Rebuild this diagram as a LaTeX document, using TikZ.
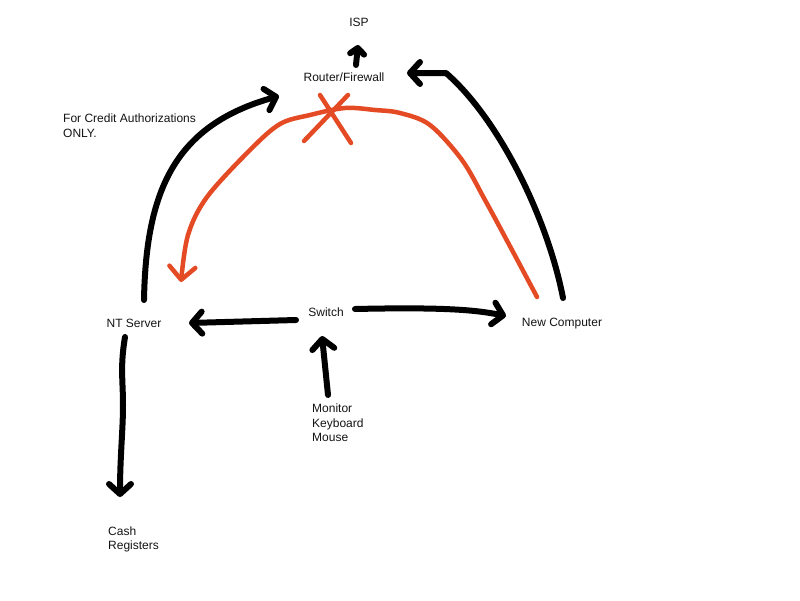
\documentclass[tikz,border=0pt]{standalone}
\usepackage{fontspec}
\setmainfont{Liberation Sans}
\usetikzlibrary{arrows.meta,calc}
\definecolor{redpen}{RGB}{228,74,36}

\begin{document}
\begin{tikzpicture}[x=1pt,y=-1pt,
        every node/.style={font=\fontsize{12}{14.5}\selectfont,text=black!92,inner sep=0pt},
        link/.style={line width=6pt,line cap=round,line join=round,-{Straight Barb[length=10pt,width=22pt,round]}},
        redlink/.style={line width=4.5pt,line cap=round,line join=round,draw=redpen,-{Straight Barb[length=13pt,width=26pt,round]}}]
                \useasboundingbox[fill=white] (0,0) rectangle (800,600);
                \node (isp) at (359,22) {ISP};
                \node (router) at (344,77) {Router/Firewall};
                \node[align=left,anchor=north west] (note) at (63,114) {For Credit Authorizations\\ONLY.};
                \node (ntserver) at (134,323) {NT Server};
                \node (switch) at (326,312) {Switch};
                \node (newpc) at (562,324) {New Computer};
                \node[align=left,anchor=north west] (input) at (312,404) {Monitor\\Keyboard\\Mouse};
                \node[align=left,anchor=north west] (cash) at (108,526.5) {Cash\\Registers};
                \draw[redlink] plot[smooth,tension=0.55] coordinates {($(newpc)+(-25,-27)$) (512,250) (485,200) (462,160) (430,125) (400,113) (375,110) (345,108) (310,115) (280,124) (250,150) (207,197) (188,235) ($(ntserver)+(47,-41)$)};
                \draw[redpen,line width=4.5pt,line cap=round] (320,95) -- (351,143) (348,95) -- (304,141);
                \draw[link,-{Straight Barb[length=6pt,width=14pt,round]}] ($(router)+(12,-12)$) -- ($(isp)+(-1,23)$);
                \draw[link] ($(ntserver)+(10,-23)$) .. controls +(2,-110) and +(-104,29) .. ($(router)+(-65,19)$);
                \draw[link] ($(newpc)+(1,-26)$) .. controls +(-15,-78) and +(54,47) .. ($(router)+(102,-4)$) -- ($(router)+(63,-4)$);
                \draw[link] ($(switch)+(-30,8)$) -- ($(ntserver)+(55,0)$);
                \draw[link] ($(switch)+(29,-3)$) .. controls +(90,-2) and +(-30,-6) .. ($(newpc)+(-56,-8)$);
                \draw[link] ($(input.north west)+(16,-9)$) -- ($(switch)+(-4,24)$);
                \draw[link] ($(ntserver)+(-9,14)$) .. controls +(-5,30) and +(0,-25) .. ($(ntserver)+(-11,82)$) .. controls +(0,25) and +(0,-40) .. ($(cash.north west)+(12,-29.5)$);
            \end{tikzpicture}
\end{document}
